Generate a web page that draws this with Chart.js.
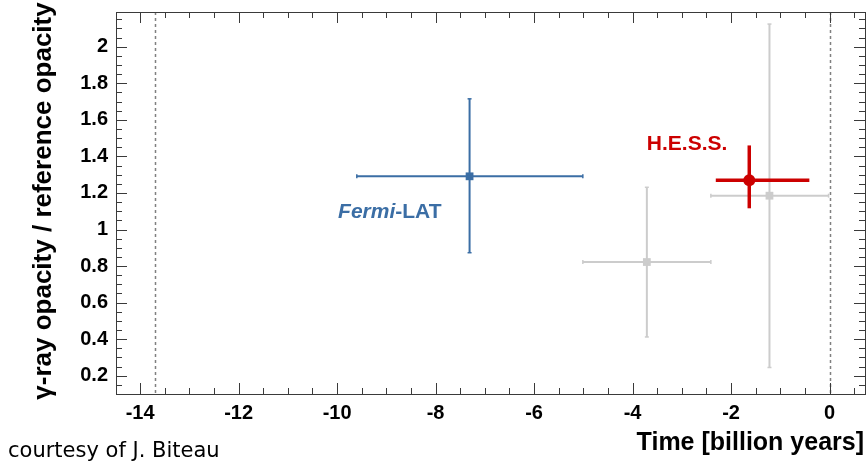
<!DOCTYPE html>
<html>
<head>
<meta charset="utf-8">
<script src="https://cdn.jsdelivr.net/npm/chart.js@4.4.1/dist/chart.umd.min.js"></script>
<style>
  html, body { margin: 0; padding: 0; background: #ffffff; }
  #wrap { width: 867px; height: 464px; position: relative; }
</style>
</head>
<body>
<div id="wrap"><canvas id="c" width="867" height="464"></canvas></div>
<script>
// ---- Data ----
const xTickLabels = [-14, -12, -10, -8, -6, -4, -2, 0];
const yTickLabels = [0.2, 0.4, 0.6, 0.8, 1, 1.2, 1.4, 1.6, 1.8, 2];
const seriesNames = ['H.E.S.S.', 'Fermi-LAT', 'other A', 'other B'];
const time        = [-1.63, -7.31, -3.71, -1.22];
const timeLow     = [-2.31, -9.60, -5.01, -2.41];
const timeHigh    = [-0.41, -5.01, -2.41, -0.02];
const opacity     = [1.269, 1.291, 0.822, 1.185];
const opacityLow  = [1.116, 0.873, 0.412, 0.245];
const opacityHigh = [1.460, 1.715, 1.231, 2.124];
const referenceLines = [-13.7, 0];

// ---- Styles ----
const styles = [
  { color: '#cc0000', width: 3.5, marker: 'circle', radius: 6, cap: 0 },
  { color: '#3b6ea5', width: 2, marker: 'rect', radius: 5.5, cap: 2 },
  { color: '#cccccc', width: 2, marker: 'rect', radius: 5.5, cap: 2 },
  { color: '#cccccc', width: 2, marker: 'rect', radius: 5.5, cap: 2 }
];

const datasets = [];
seriesNames.forEach((name, i) => {
  const s = styles[i];
  const ord = i === 0 ? 0 : (i === 1 ? 1 : 2);
  datasets.push({
    label: name + ' time range', type: 'scatter', showLine: true, order: ord,
    data: [{ x: timeLow[i], y: opacity[i] }, { x: timeHigh[i], y: opacity[i] }],
    borderColor: s.color, borderWidth: s.width,
    pointStyle: 'line', pointRotation: 90, pointRadius: s.cap,
    pointBorderColor: s.color, pointBorderWidth: 1.5
  });
  datasets.push({
    label: name + ' opacity range', type: 'scatter', showLine: true, order: ord,
    data: [{ x: time[i], y: opacityLow[i] }, { x: time[i], y: opacityHigh[i] }],
    borderColor: s.color, borderWidth: s.width,
    pointStyle: 'line', pointRotation: 0, pointRadius: s.cap,
    pointBorderColor: s.color, pointBorderWidth: 1.5
  });
  datasets.push({
    label: name, type: 'scatter', order: ord,
    data: [{ x: time[i], y: opacity[i] }],
    pointStyle: s.marker, pointRadius: s.radius,
    backgroundColor: s.color, borderColor: s.color, borderWidth: 0
  });
});

const AXIS_COLOR = '#3a3a3a';
const BOLD = 'bold 21px "Liberation Sans", Arial, sans-serif';

const framePlugin = {
  id: 'frame',
  beforeDatasetsDraw(chart) {
    const { ctx, chartArea: a, scales: { x } } = chart;
    ctx.save();
    ctx.strokeStyle = '#808080';
    ctx.lineWidth = 1.5;
    ctx.setLineDash([3, 3]);
    referenceLines.forEach(v => {
      const px = Math.round(x.getPixelForValue(v)) + 0.5;
      ctx.beginPath();
      ctx.moveTo(px, a.top);
      ctx.lineTo(px, a.bottom);
      ctx.stroke();
    });
    ctx.restore();
  },
  afterDraw(chart) {
    const { ctx, chartArea: a, scales: { x, y } } = chart;
    ctx.save();
    // frame
    ctx.strokeStyle = AXIS_COLOR;
    ctx.lineWidth = 1;
    ctx.strokeRect(Math.round(a.left) + 0.5, Math.round(a.top) + 0.5,
                   Math.round(a.right - a.left), Math.round(a.bottom - a.top));
    // x tick marks (bottom and top)
    const xMinor = 0.5;
    for (let k = Math.ceil(x.min / xMinor); k * xMinor <= x.max; k++) {
      const v = k * xMinor;
      const major = Math.abs(v / 2 - Math.round(v / 2)) < 1e-6;
      const len = major ? 11 : 6;
      const px = Math.round(x.getPixelForValue(v)) + 0.5;
      ctx.beginPath();
      ctx.moveTo(px, a.bottom); ctx.lineTo(px, a.bottom - len);
      ctx.moveTo(px, a.top); ctx.lineTo(px, a.top + len);
      ctx.stroke();
    }
    // y tick marks (left and right)
    const yMinor = 0.05;
    for (let k = Math.ceil(y.min / yMinor - 1e-6); k * yMinor <= y.max + 1e-9; k++) {
      const v = k * yMinor;
      const major = Math.abs(v / 0.2 - Math.round(v / 0.2)) < 1e-6;
      const len = major ? 11 : 6;
      const py = Math.round(y.getPixelForValue(v)) + 0.5;
      ctx.beginPath();
      ctx.moveTo(a.left, py); ctx.lineTo(a.left + len, py);
      ctx.moveTo(a.right, py); ctx.lineTo(a.right - len, py);
      ctx.stroke();
    }
    // series labels
    ctx.textBaseline = 'middle';
    ctx.textAlign = 'left';
    const fx = x.getPixelForValue(-9.98), fy = y.getPixelForValue(1.093);
    ctx.fillStyle = styles[1].color;
    ctx.font = 'italic bold 21px "Liberation Sans", Arial, sans-serif';
    ctx.fillText('Fermi', fx, fy);
    const w = ctx.measureText('Fermi').width;
    ctx.font = BOLD;
    ctx.fillText('-LAT', fx + w, fy);
    ctx.fillStyle = styles[0].color;
    ctx.fillText('H.E.S.S.', x.getPixelForValue(-3.71), y.getPixelForValue(1.464));
    // axis titles
    ctx.fillStyle = '#000000';
    ctx.textBaseline = 'alphabetic';
    ctx.textAlign = 'right';
    ctx.font = 'bold 25px "Liberation Sans", Arial, sans-serif';
    ctx.fillText('Time [billion years]', 864, 450);
    ctx.save();
    ctx.translate(51, 201);
    ctx.rotate(-Math.PI / 2);
    ctx.textAlign = 'center';
    ctx.font = 'bold 26px "Liberation Sans", Arial, sans-serif';
    ctx.fillText('\u03B3-ray opacity / reference opacity', 0, 0);
    ctx.restore();
    // credit
    ctx.textAlign = 'left';
    ctx.font = '21px "DejaVu Sans", sans-serif';
    ctx.fillStyle = '#000000';
    ctx.fillText('courtesy of J. Biteau', 8, 457);
    ctx.restore();
  }
};

new Chart(document.getElementById('c'), {
  type: 'scatter',
  data: { datasets },
  options: {
    responsive: false,
    animation: false,
    layout: { autoPadding: false, padding: { left: 0, right: 2, top: 12, bottom: 0 } },
    plugins: { legend: { display: false }, tooltip: { enabled: false } },
    scales: {
      x: {
        type: 'linear', min: -14.49, max: 0.72,
        afterBuildTicks: s => { s.ticks = xTickLabels.map(v => ({ value: v })); },
        afterFit: s => { s.height = 70; s.paddingLeft = 0; s.paddingRight = 0; },
        grid: { display: false, drawTicks: false },
        border: { display: false },
        ticks: { color: '#000', font: { family: '"Liberation Sans", Arial, sans-serif', size: 20, weight: 'bold' },
                 padding: 7, maxRotation: 0, autoSkip: false,
                 callback: v => String(v) }
      },
      y: {
        type: 'linear', min: 0.1, max: 2.19,
        afterBuildTicks: s => { s.ticks = yTickLabels.map(v => ({ value: v })); },
        afterFit: s => { s.width = 116; s.paddingTop = 0; s.paddingBottom = 0; },
        grid: { display: false, drawTicks: false },
        border: { display: false },
        ticks: { color: '#000', font: { family: '"Liberation Sans", Arial, sans-serif', size: 20, weight: 'bold' },
                 padding: 8, autoSkip: false,
                 callback: v => String(Number(v.toFixed(2))) }
      }
    }
  },
  plugins: [framePlugin]
});
</script>
</body>
</html>
